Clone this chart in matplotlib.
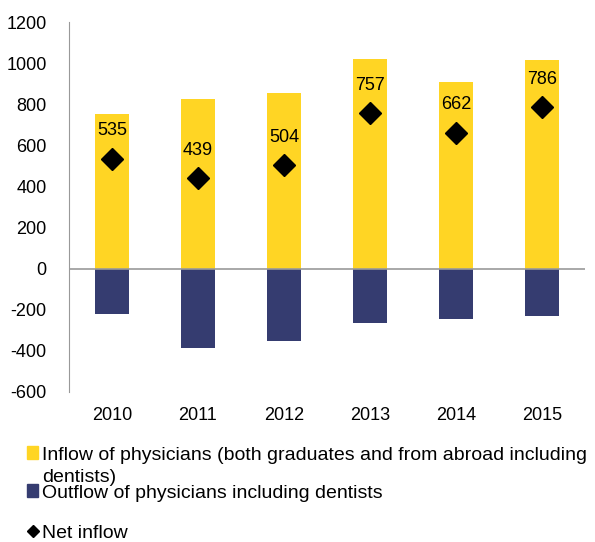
import numpy as np
import matplotlib.pyplot as plt
from matplotlib.patches import Patch
from matplotlib.lines import Line2D

plt.rcParams['font.family'] = ['Liberation Sans', 'DejaVu Sans']
plt.rcParams['axes.unicode_minus'] = False

years = ['2010', '2011', '2012', '2013', '2014', '2015']
inflow = [755, 825, 855, 1020, 908, 1015]
outflow = [-220, -386, -351, -263, -246, -229]
net = [535, 439, 504, 757, 662, 786]

yellow = '#FFD524'
navy = '#353C70'
fs = 13

fig = plt.figure(figsize=(5.95, 5.42), dpi=100)
ax = fig.add_axes([0.116, 0.277, 0.867, 0.682])

x = np.arange(len(years))
ax.bar(x, inflow, width=0.4, color=yellow)
ax.bar(x, outflow, width=0.4, color=navy)
ax.plot(x, net, linestyle='none', marker='D', markersize=11, color='black')
for xi, v in zip(x, net):
    ax.annotate(str(v), (xi, v), xytext=(0, 14), textcoords='offset points',
                ha='center', va='bottom', fontsize=fs)

ax.set_xlim(-0.5, len(years) - 0.5)
ax.set_ylim(-600, 1200)
ax.set_yticks(range(-600, 1201, 200))
ax.tick_params(axis='y', length=0, labelsize=fs, pad=16)
ax.set_xticks(x)
ax.set_xticklabels(years)
ax.tick_params(axis='x', length=0, labelsize=fs, pad=0)
for t in ax.get_xticklabels():
    t.set_y(-0.042)

for s in ['top', 'right', 'bottom']:
    ax.spines[s].set_visible(False)
ax.spines['left'].set_color('#999999')
ax.axhline(0, color='#999999', linewidth=1.2)

# legend, each entry placed on its own like the original layout
leg_kw = dict(frameon=False, fontsize=14, handlelength=0.6, handleheight=0.6,
              handletextpad=0.2, borderpad=0, borderaxespad=0)
fig.legend(handles=[Patch(color=yellow)],
           labels=['Inflow of physicians (both graduates and from abroad including'],
           loc='center left', bbox_to_anchor=(0.045, 1 - 455 / 542), **leg_kw)
fig.text(0.0705, 1 - 478 / 542, 'dentists)', fontsize=14, va='center')
fig.legend(handles=[Patch(color=navy)],
           labels=['Outflow of physicians including dentists'],
           loc='center left', bbox_to_anchor=(0.045, 1 - 493 / 542), **leg_kw)
fig.legend(handles=[Line2D([], [], linestyle='none', marker='D', markersize=6, color='black')],
           labels=['Net inflow'],
           loc='center left', bbox_to_anchor=(0.045, 1 - 533 / 542), **leg_kw)

fig.savefig('out.png', dpi=100)
